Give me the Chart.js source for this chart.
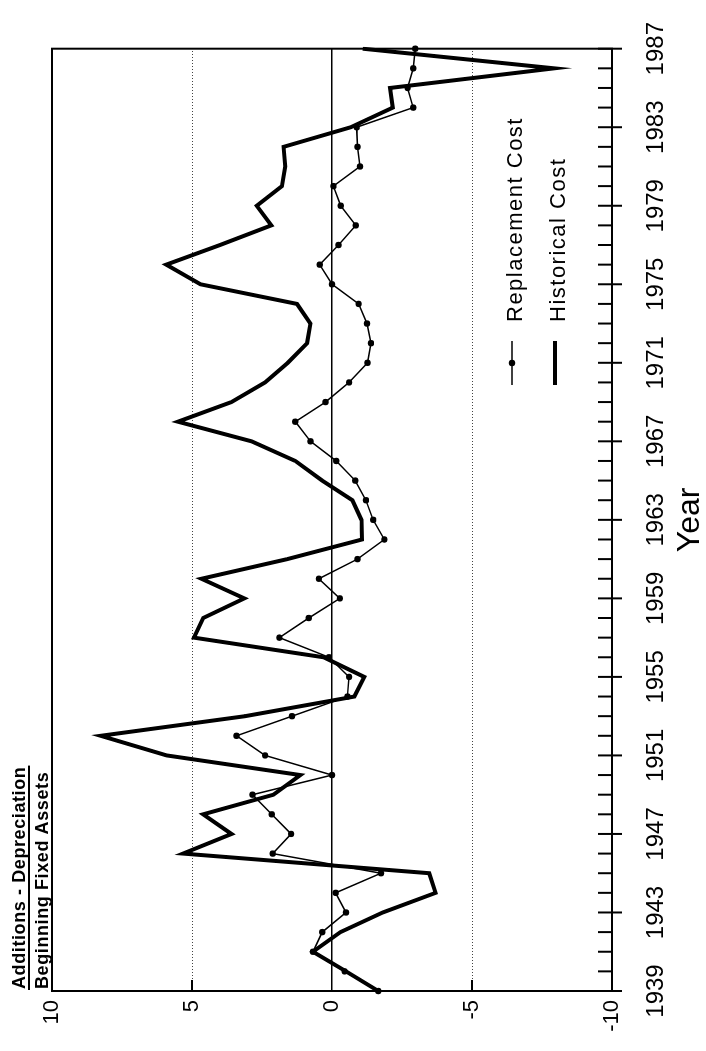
<!DOCTYPE html>
<html>
<head>
<meta charset="utf-8">
<script src="https://cdn.jsdelivr.net/npm/chart.js@4.4.0/dist/chart.umd.min.js"></script>
<style>
    html, body { margin: 0; padding: 0; background: #fff; overflow: hidden; }
    /* chart is drawn landscape, then turned a quarter turn to stand up like the print */
    #wrap {
        position: absolute; left: 0; top: 0;
        width: 1051px; height: 706px;
        transform-origin: 0 0;
        transform: translate(0px, 1051px) rotate(-90deg);
    }
</style>
</head>
<body>
<div id="wrap"><canvas id="myChart" width="1051" height="706"></canvas></div>
<script>
var years = ["1939", "1940", "1941", "1942", "1943", "1944", "1945", "1946", "1947", "1948",
    "1949", "1950", "1951", "1952", "1953", "1954", "1955", "1956", "1957", "1958",
    "1959", "1960", "1961", "1962", "1963", "1964", "1965", "1966", "1967", "1968",
    "1969", "1970", "1971", "1972", "1973", "1974", "1975", "1976", "1977", "1978",
    "1979", "1980", "1981", "1982", "1983", "1984", "1985", "1986", "1987"];

var replacementCost = [-1.65, -0.45, 0.68, 0.35, -0.5, -0.13, -1.75, 2.12, 1.46, 2.15,
    2.84, 0.0, 2.39, 3.41, 1.43, -0.55, -0.61, 0.11, 1.88, 0.83,
    -0.28, 0.47, -0.91, -1.87, -1.47, -1.21, -0.83, -0.15, 0.77, 1.31,
    0.23, -0.61, -1.27, -1.39, -1.25, -0.95, 0.0, 0.44, -0.23, -0.85,
    -0.31, -0.05, -1.0, -0.91, -0.88, -2.9, -2.7, -2.9, -2.97];

var historicalCost = [-1.65, -0.5, 0.68, -0.3, -1.81, -3.7, -3.47, 5.32, 3.59, 4.6,
    2.09, 1.13, 5.9, 8.26, 3.1, -0.8, -1.15, 0.3, 4.93, 4.6,
    3.13, 4.66, 1.6, -1.07, -1.05, -0.73, 0.35, 1.31, 2.87, 5.5,
    3.59, 2.39, 1.58, 0.89, 0.77, 1.25, 4.7, 5.92, 4.0, 2.17,
    2.69, 1.79, 1.67, 1.73, -0.67, -2.17, -2.07, -7.93, -1.1];

var valueMin = -10;
var valueMax = 10;
var valueStep = 5;
var dottedLines = [5, -5];
var yTitleTop = "Additions - Depreciation";
var yTitleBottom = "Beginning Fixed Assets";

Chart.defaults.font.family = "'Liberation Sans', Arial, sans-serif";
Chart.defaults.color = "#000";

// frame, tick marks, fraction title and legend
const extrasPlugin = {
    id: "extras",
    afterDraw: function (chart) {
        const ctx = chart.ctx;
        const a = chart.chartArea;
        ctx.save();
        ctx.strokeStyle = "#000";
        ctx.fillStyle = "#000";
        ctx.lineWidth = 2;
        ctx.strokeRect(a.left, a.top, a.right - a.left, a.bottom - a.top);

        // year ticks, every fourth one crosses the axis
        const xs = chart.scales.x;
        for (let i = 0; i < years.length; i++) {
            const px = xs.getPixelForValue(i);
            ctx.beginPath();
            ctx.moveTo(px, a.bottom - 14);
            ctx.lineTo(px, i % 4 === 0 ? a.bottom + 10 : a.bottom);
            ctx.stroke();
        }

        // short inside ticks on the value axis
        const ys = chart.scales.y;
        dottedLines.forEach(function (v) {
            const py = ys.getPixelForValue(v);
            ctx.beginPath();
            ctx.moveTo(a.left, py);
            ctx.lineTo(a.left + 11, py);
            ctx.stroke();
        });

        // value-axis title written as a fraction
        ctx.font = "bold 18px 'Liberation Sans', Arial, sans-serif";
        if ("letterSpacing" in ctx) ctx.letterSpacing = "0.6px";
        ctx.textAlign = "left";
        ctx.textBaseline = "alphabetic";
        const w = Math.max(ctx.measureText(yTitleTop).width, ctx.measureText(yTitleBottom).width);
        ctx.fillText(yTitleTop, a.left + 2, 25);
        ctx.fillText(yTitleBottom, a.left + 2, 48);
        ctx.beginPath();
        ctx.moveTo(a.left + 1, 29);
        ctx.lineTo(a.left + 3 + w, 29);
        ctx.stroke();

        // legend
        const ds = chart.data.datasets;
        const rows = [512, 555];
        ctx.font = "22px 'Liberation Sans', Arial, sans-serif";
        if ("letterSpacing" in ctx) ctx.letterSpacing = "1.5px";
        for (let k = 0; k < ds.length; k++) {
            const v = rows[k];
            ctx.lineWidth = ds[k].borderWidth;
            ctx.beginPath();
            ctx.moveTo(666, v);
            ctx.lineTo(710, v);
            ctx.stroke();
            if (ds[k].pointRadius > 0) {
                ctx.beginPath();
                ctx.arc(688, v, ds[k].pointRadius, 0, Math.PI * 2);
                ctx.fill();
            }
            ctx.fillText(ds[k].label, 729, v + 10);
        }
        ctx.restore();
    }
};

const data = {
    labels: years,
    datasets: [
        {
            label: "Replacement Cost",
            data: replacementCost,
            borderColor: "#000",
            borderWidth: 1.5,
            pointRadius: 3.2,
            pointBackgroundColor: "#000",
            pointBorderWidth: 0,
            tension: 0,
            fill: false,
        },
        {
            label: "Historical Cost",
            data: historicalCost,
            borderColor: "#000",
            borderWidth: 4,
            pointRadius: 0,
            tension: 0,
            fill: false,
        },
    ],
};

const config = {
    type: "line",
    data,
    plugins: [extrasPlugin],
    options: {
        responsive: false,
        animation: false,
        layout: { padding: { top: 52, right: 38, left: 0, bottom: 0 } },
        plugins: { legend: { display: false }, tooltip: { enabled: false } },
        scales: {
            x: {
                type: "category",
                afterFit: function (s) { s.height = 94; },
                grid: { display: false },
                border: { display: false },
                ticks: {
                    autoSkip: false,
                    maxRotation: 0,
                    minRotation: 0,
                    padding: 22,
                    font: { size: 24, lineHeight: 1.2 },
                    callback: function (val, idx) { return idx % 4 === 0 ? years[idx] : ""; },
                },
                title: {
                    display: true,
                    text: "Year",
                    font: { size: 32, lineHeight: 1 },
                    padding: { top: 0, bottom: 0 },
                },
            },
            y: {
                min: valueMin,
                max: valueMax,
                afterFit: function (s) { s.width = 60; },
                border: { display: false },
                grid: {
                    drawTicks: false,
                    lineWidth: 1.5,
                    color: function (c) {
                        return c.tick && c.tick.value === 0 ? "#000" : "rgba(0,0,0,0)";
                    },
                },
                ticks: {
                    stepSize: valueStep,
                    padding: 9,
                    font: { size: 22 },
                },
            },
            y2: {
                min: valueMin,
                max: valueMax,
                position: "left",
                afterFit: function (s) { s.width = 0; },
                border: { display: false, dash: [1, 2] },
                grid: {
                    drawTicks: false,
                    lineWidth: 1,
                    color: function (c) {
                        return c.tick && dottedLines.indexOf(c.tick.value) >= 0 ? "#444" : "rgba(0,0,0,0)";
                    },
                },
                ticks: { display: false, stepSize: valueStep },
            },
        },
    },
};

myChart = new Chart(document.getElementById("myChart"), config);
</script>
</body>
</html>
